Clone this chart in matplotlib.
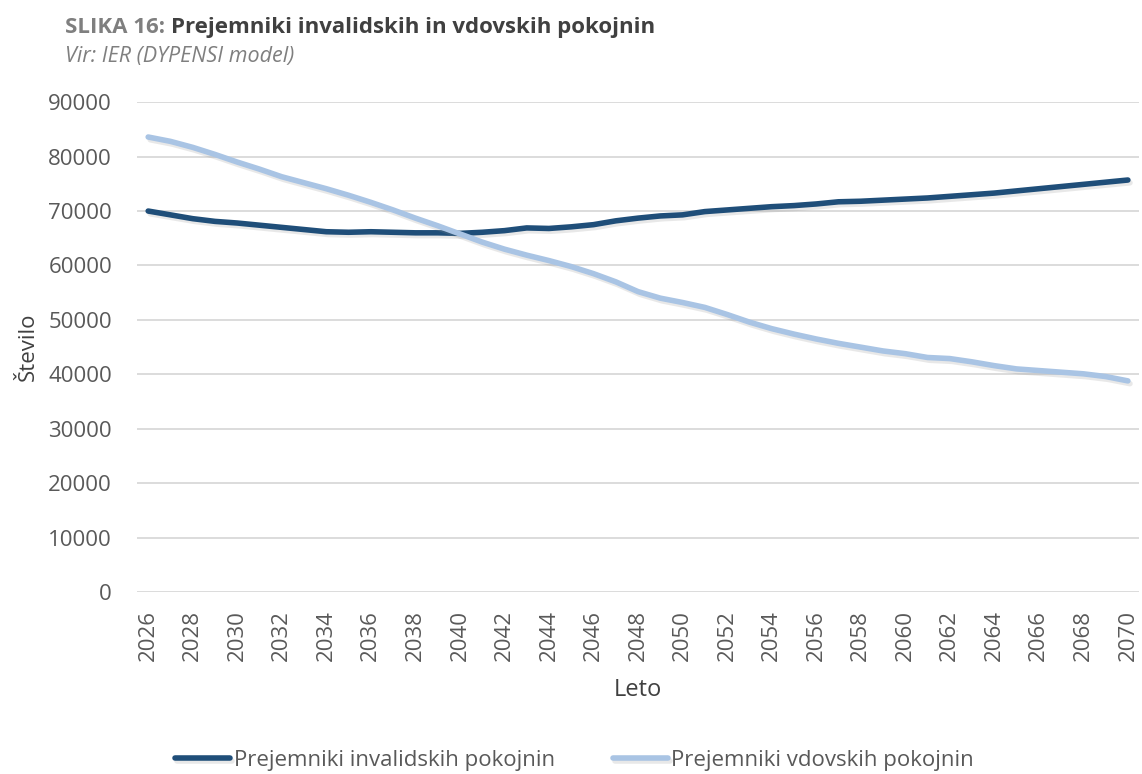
import matplotlib
matplotlib.use("Agg")
import matplotlib.pyplot as plt
import matplotlib.patheffects as pe

# data
years = list(range(2026, 2071))
invalidske = [70000, 69300, 68600, 68100, 67800, 67400, 67000, 66600, 66200, 66100,
              66200, 66100, 66000, 66000, 65900, 66100, 66400, 66900, 66800, 67100,
              67500, 68200, 68700, 69100, 69300, 69900, 70200, 70500, 70800, 71000,
              71300, 71700, 71800, 72000, 72200, 72400, 72700, 73000, 73300, 73700,
              74100, 74500, 74900, 75300, 75700]
vdovske = [83600, 82800, 81700, 80400, 79000, 77700, 76300, 75200, 74100, 72900,
           71600, 70200, 68700, 67300, 65800, 64300, 63000, 61900, 60900, 59800,
           58500, 57000, 55200, 54000, 53200, 52300, 51000, 49600, 48400, 47400,
           46500, 45700, 45000, 44300, 43800, 43100, 42900, 42300, 41600, 41000,
           40700, 40400, 40100, 39600, 38800]
labels = ["Prejemniki invalidskih pokojnin", "Prejemniki vdovskih pokojnin"]
colors = ["#1F4E79", "#A9C4E4"]

plt.rcParams['font.family'] = ['Open Sans', 'DejaVu Sans']

fig = plt.figure(figsize=(11.42, 7.74), dpi=100)
ax = fig.add_axes([0.12, 0.235, 0.8774, 0.633])

shadow = [pe.SimpleLineShadow(offset=(1.5, -2), shadow_color='#909090', alpha=0.2),
          pe.Normal()]
for vals, lab, col in zip([invalidske, vdovske], labels, colors):
    ax.plot(years, vals, color=col, lw=4, label=lab,
            solid_capstyle='round', path_effects=shadow, zorder=3)

ax.set_xlim(2025.5, 2070.5)
ax.set_ylim(0, 90000)
ax.set_yticks(range(0, 90001, 10000))
ax.set_xticks(years[::2])
ax.set_xticklabels([str(y) for y in years[::2]], rotation=90)
ax.tick_params(length=0, labelsize=16, colors='#595959')
ax.tick_params(axis='y', pad=18)
ax.tick_params(axis='x', pad=13)
ax.grid(axis='y', color='#D9D9D9', lw=1.3)
ax.set_axisbelow(True)
for s in ax.spines.values():
    s.set_visible(False)

ax.set_ylabel("Število", fontsize=16, color='#404040')
ax.yaxis.set_label_coords(-0.098, 0.5)
ax.set_xlabel("Leto", fontsize=17, color='#404040')
ax.xaxis.set_label_coords(0.5, -0.175)

# title: grey figure number followed by the dark title text
t1 = fig.text(0.057, 0.957, "SLIKA 16: ", fontsize=16, fontweight='bold',
              color='#7F7F7F', va='baseline')
ax.annotate("Prejemniki invalidskih in vdovskih pokojnin", xy=(1, 0), xycoords=t1,
            va='bottom', fontsize=16, fontweight='bold', color='#404040',
            annotation_clip=False)
fig.text(0.057, 0.92, "Vir: IER (DYPENSI model)", fontsize=15.5, style='italic',
         color='#7F7F7F', va='baseline')

leg = fig.legend(loc='center', bbox_to_anchor=(0.503, 0.018), ncol=2,
                 frameon=False, fontsize=16, handlelength=2.5, handletextpad=0.15,
                 columnspacing=2.6)
for t in leg.get_texts():
    t.set_color('#595959')

fig.savefig("out.png", dpi=100)
